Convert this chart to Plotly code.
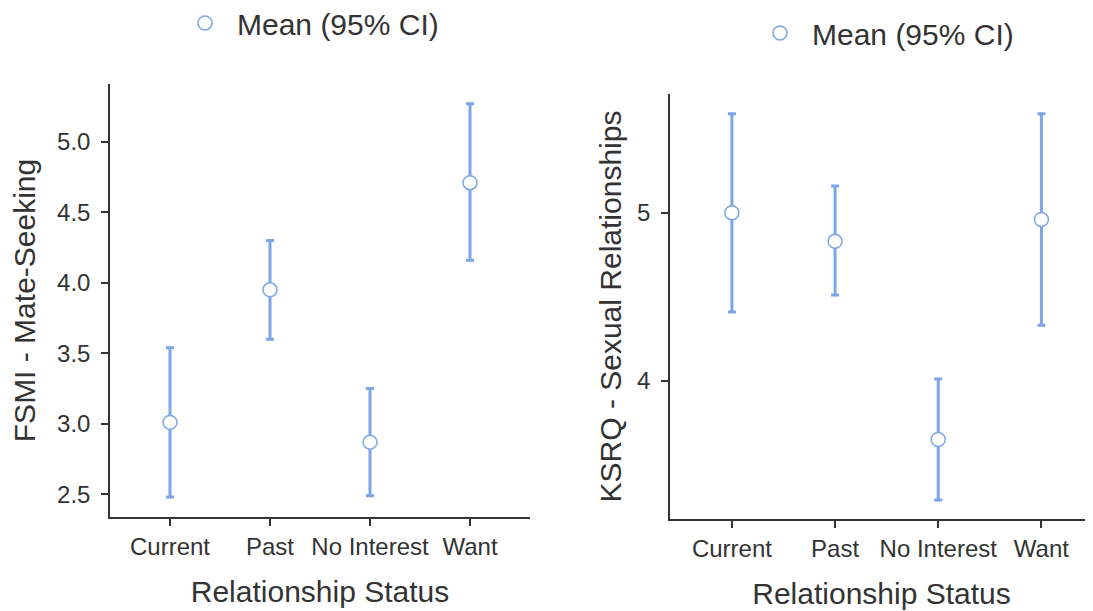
import plotly.graph_objects as go

categories = ["Current", "Past", "No Interest", "Want"]

fsmi_mean = [3.01, 3.95, 2.87, 4.71]
fsmi_lower = [2.48, 3.60, 2.49, 4.16]
fsmi_upper = [3.54, 4.30, 3.25, 5.27]

ksrq_mean = [5.00, 4.83, 3.65, 4.96]
ksrq_lower = [4.41, 4.51, 3.29, 4.33]
ksrq_upper = [5.59, 5.16, 4.01, 5.59]

left_ticks = [2.5, 3.0, 3.5, 4.0, 4.5, 5.0]
left_ticklabels = ["2.5", "3.0", "3.5", "4.0", "4.5", "5.0"]
right_ticks = [4, 5]
right_ticklabels = ["4", "5"]

BLUE = "#7AA6E6"
TXT = "#333333"
FONT = "Liberation Sans"
OFF = 8  # page body margin
W, H = 1093 - OFF, 611 - OFF


def xp(p):
    return (p - OFF) / W


def yp(p):
    return 1 - (p - OFF) / H


xpos = [1, 2, 3, 4]

fig = go.Figure()


def add_panel(mean, lower, upper, xa, ya, legend):
    fig.add_trace(go.Scatter(
        x=xpos, y=mean, mode="markers", name="Mean (95% CI)",
        xaxis=xa, yaxis=ya, legend=legend, showlegend=True,
        marker=dict(size=14, color="white", line=dict(color=BLUE, width=1.5)),
        error_y=dict(type="data", symmetric=False,
                     array=[u - m for u, m in zip(upper, mean)],
                     arrayminus=[m - l for m, l in zip(mean, lower)],
                     color=BLUE, thickness=3, width=4),
    ))


add_panel(fsmi_mean, fsmi_lower, fsmi_upper, "x", "y", "legend")
add_panel(ksrq_mean, ksrq_lower, ksrq_upper, "x2", "y2", "legend2")

axis_common = dict(showline=True, linecolor=TXT, linewidth=1.5, ticks="outside",
                   ticklen=7, tickwidth=1.5, tickcolor=TXT, showgrid=False, zeroline=False,
                   automargin=False,
                   tickfont=dict(family=FONT, size=24, color=TXT),
                   title_font=dict(family=FONT, size=30, color=TXT))
xcommon = dict(tickvals=xpos, ticktext=categories, ticklabelstandoff=0,
               title=dict(text="Relationship Status", standoff=22), **axis_common)

fig.update_layout(
    width=W, height=H, margin=dict(l=0, r=0, t=0, b=0, autoexpand=False),
    paper_bgcolor="white", plot_bgcolor="white",
    font=dict(family=FONT, color=TXT),
    xaxis=dict(domain=[xp(110), xp(530)], anchor="y", range=[0.4, 4.6], **xcommon),
    yaxis=dict(domain=[yp(517), yp(84)], anchor="x", range=[2.339, 5.41],
               tickvals=left_ticks, ticktext=left_ticklabels, ticklabelstandoff=6,
               title=dict(text="FSMI - Mate-Seeking", standoff=20), **axis_common),
    xaxis2=dict(domain=[xp(670), 1.0], anchor="y2", range=[0.4, 4.5], **xcommon),
    yaxis2=dict(domain=[yp(519), yp(94)], anchor="x2", range=[3.177, 5.707],
                tickvals=right_ticks, ticktext=right_ticklabels, ticklabelstandoff=6,
                title=dict(text="KSRQ - Sexual Relationships", standoff=7), **axis_common),
    legend=dict(x=xp(173), y=yp(23), xanchor="left", yanchor="middle",
                font=dict(family=FONT, size=30, color=TXT), itemwidth=54,
                bgcolor="rgba(0,0,0,0)"),
    legend2=dict(x=xp(748), y=yp(33), xanchor="left", yanchor="middle",
                 font=dict(family=FONT, size=30, color=TXT), itemwidth=54,
                 bgcolor="rgba(0,0,0,0)"),
)

fig.write_html("out.html")
